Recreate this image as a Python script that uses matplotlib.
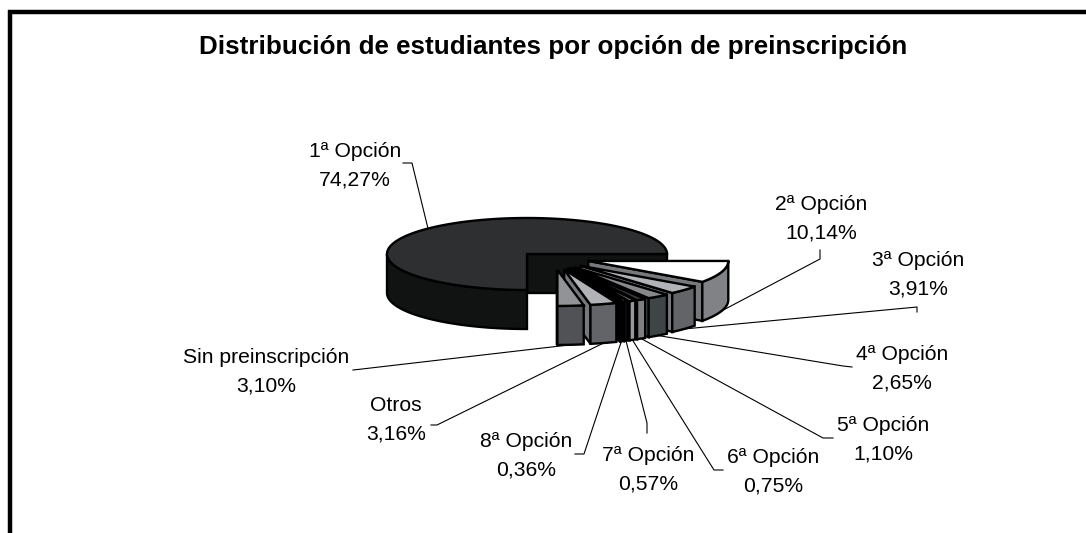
import numpy as np
import matplotlib
matplotlib.use("Agg")
import matplotlib.pyplot as plt

plt.rcParams['font.family'] = ['Liberation Sans', 'DejaVu Sans']

categories = ["1ª Opción", "2ª Opción", "3ª Opción", "4ª Opción", "5ª Opción",
              "6ª Opción", "7ª Opción", "8ª Opción", "Otros", "Sin preinscripción"]
values = [74.27, 10.14, 3.91, 2.65, 1.10, 0.75, 0.57, 0.36, 3.16, 3.10]
title = "Distribución de estudiantes por opción de preinscripción"

# colours of each slice
top_colors = ["#2e2f31", "#ffffff", "#b2b3b7", "#87888b", "#3c3d40",
              "#a6a7aa", "#ffffff", "#000000", "#b2b3b7", "#929396"]
side_colors = ["#111313", "#808285", "#626467", "#3f4447", "#7d7e80",
               "#97989b", "#0a0a0a", "#000000", "#626467", "#505255"]
wall_colors = ["#111313", "#77787b", "#77787b", "#5a5b5e", "#222222",
               "#222222", "#111111", "#000000", "#77787b", "#77787b"]

# where the label text sits and the elbow of its leader line (pixels)
label_pos = [(355, 166), (821, 219), (918, 275), (902, 369), (883, 440),
             (773, 472), (648, 470), (526, 456), (396, 420), (266, 372)]
leader_elbow = [[(403, 163), (412, 163)],
                [(820, 250), (820, 259)],
                [(917, 312), (917, 307)],
                [(852, 367), (843, 366)],
                [(833, 438), (823, 438)],
                [(723, 470), (714, 470)],
                [(647, 433), (647, 423)],
                [(575, 454), (584, 454)],
                [(431, 425), (437, 425)],
                [(353, 370), (362, 369)]]

# projection of the pie
A, B, Z = 140, 36, 39
CX, CY = 527, 254
EX0, EY0 = 554, 257   # shift of the pulled out group
EX, EY = 36, 13       # explosion along each slice's bisector


def outer(cx, cy, deg):
    r = np.radians(deg)
    return cx + A * np.cos(r), cy - B * np.sin(r)


def arc(cx, cy, a1, a2):
    t = np.linspace(a1, a2, max(int(abs(a2 - a1)), 2) + 1)
    x, y = outer(cx, cy, t)
    return np.column_stack([x, y])


# first slice fills three quarters on screen, the others share the rest
rest = sum(values[1:])
spans = [270.0] + [v / rest * 90.0 for v in values[1:]]
ends = -np.cumsum([0.0] + spans[1:])  # clockwise from east

fig = plt.figure(figsize=(10.86, 5.33), dpi=100, facecolor="white")
ax = fig.add_axes([0, 0, 1, 1])
ax.set_xlim(0, 1086)
ax.set_ylim(533, 0)
ax.axis("off")

# frame: top and left only
ax.plot([8, 1086], [12, 12], color="black", lw=3.2, solid_capstyle="butt")
ax.plot([10, 10], [10, 533], color="black", lw=3.2, solid_capstyle="butt")

ax.text(553, 47, title, fontsize=18.75, fontweight="bold", ha="center", va="center")

# slice geometry
centers = [(CX, CY)]
mids = [135.0]
for i in range(1, len(values)):
    m = (ends[i - 1] + ends[i]) / 2
    r = np.radians(m)
    centers.append((EX0 + EX * np.cos(r), EY0 + EY * abs(np.sin(r))))
    mids.append(m)

# leader lines and labels
for i, cat in enumerate(categories):
    px, py = outer(centers[i][0], centers[i][1], mids[i])
    if i > 0:
        py += Z
    pts = leader_elbow[i] + [(px, py)]
    ax.plot([p[0] for p in pts], [p[1] for p in pts], color="black", lw=0.8, zorder=1)
    txt = cat + "\n" + f"{values[i]:.2f}".replace(".", ",") + "%"
    ax.text(label_pos[i][0], label_pos[i][1], txt, fontsize=15.2, ha="center",
            va="center", linespacing=1.66)


def poly(pts, color, z):
    ax.fill(pts[:, 0], pts[:, 1], facecolor=color, edgecolor="black", lw=1.7,
            joinstyle="miter", zorder=z)


# big slice: walls then top
z = 2
east = np.array([[CX, CY], [CX + A, CY], [CX + A, CY + Z], [CX, CY + Z]])
poly(east, side_colors[0], z)
a = arc(CX, CY, 180, 270)
poly(np.vstack([a, a[::-1] + [0, Z]]), side_colors[0], z)
a = arc(CX, CY, 0, 270)
poly(np.vstack([[[CX, CY]], a]), top_colors[0], z)

# pulled out slices, back to front
for i in range(1, len(values)):
    z += 1
    cx, cy = centers[i]
    a1, a2 = ends[i - 1], ends[i]
    ox, oy = outer(cx, cy, a2)
    wall = np.array([[cx, cy], [ox, oy], [ox, oy + Z], [cx, cy + Z]])
    poly(wall, wall_colors[i], z)
    a = arc(cx, cy, a1, a2)
    poly(np.vstack([a, a[::-1] + [0, Z]]), side_colors[i], z)
    poly(np.vstack([[[cx, cy]], a]), top_colors[i], z)

fig.savefig("out.png", dpi=100)
